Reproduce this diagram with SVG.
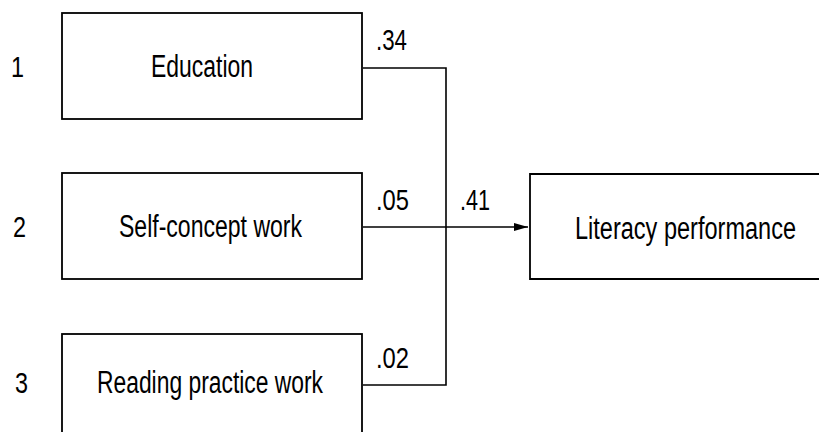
<svg xmlns="http://www.w3.org/2000/svg" width="819" height="432" viewBox="0 0 819 432">
<style>
.box{fill:#fff;stroke:#000;stroke-width:1.8}
.t{font-family:"Liberation Sans",Arial,sans-serif;font-size:31px;fill:#000}
.n{font-family:"Liberation Sans",Arial,sans-serif;font-size:29px;fill:#000}
.ln{fill:none;stroke:#000;stroke-width:1.6}
</style>
<defs>
<marker id="ah" viewBox="0 0 14 8" refX="14" refY="4" markerWidth="14" markerHeight="8" markerUnits="userSpaceOnUse" orient="auto">
<path d="M0,0 L14,4 L0,8 Z" fill="#000"/>
</marker>
</defs>
<rect width="819" height="432" fill="#fff"/>
<g id="connectors">
<polyline class="ln" points="363,68 446,68 446,385 363,385"/>
<line class="ln" x1="363" y1="227" x2="528" y2="227" marker-end="url(#ah)"/>
<text class="n" x="376" y="50" textLength="31" lengthAdjust="spacingAndGlyphs">.34</text>
<text class="n" x="376" y="210" textLength="33" lengthAdjust="spacingAndGlyphs">.05</text>
<text class="n" x="460" y="210" textLength="30" lengthAdjust="spacingAndGlyphs">.41</text>
<text class="n" x="376" y="368" textLength="33" lengthAdjust="spacingAndGlyphs">.02</text>
</g>
<g id="node-education">
<text class="n" x="11" y="77" textLength="13" lengthAdjust="spacingAndGlyphs">1</text>
<rect class="box" x="62" y="13" width="300" height="106"/>
<text class="t" x="151" y="77" textLength="102" lengthAdjust="spacingAndGlyphs">Education</text>
</g>
<g id="node-selfconcept">
<text class="n" x="13" y="237" textLength="13" lengthAdjust="spacingAndGlyphs">2</text>
<rect class="box" x="62" y="173" width="300" height="106"/>
<text class="t" x="119" y="237" textLength="183" lengthAdjust="spacingAndGlyphs">Self-concept work</text>
</g>
<g id="node-reading">
<text class="n" x="15" y="393" textLength="13" lengthAdjust="spacingAndGlyphs">3</text>
<rect class="box" x="62" y="334" width="300" height="110"/>
<text class="t" x="97" y="393" textLength="226" lengthAdjust="spacingAndGlyphs">Reading practice work</text>
</g>
<g id="node-literacy">
<path d="M819,174 H530 V279 H819" fill="#fff" stroke="#000" stroke-width="1.8"/>
<text class="t" x="575" y="239" textLength="221" lengthAdjust="spacingAndGlyphs">Literacy performance</text>
</g>
</svg>
